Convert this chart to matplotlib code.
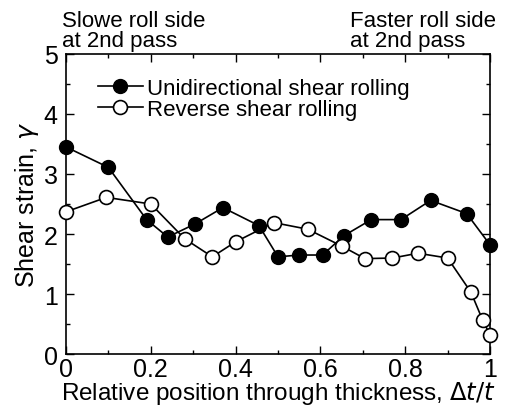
import numpy as np
import matplotlib
matplotlib.use('Agg')
import matplotlib.pyplot as plt
from matplotlib.ticker import MultipleLocator

plt.rcParams['font.family'] = ['Liberation Sans', 'DejaVu Sans']

# Unidirectional shear rolling (filled)
uni_x = [0.0, 0.1, 0.19, 0.24, 0.305, 0.37, 0.455, 0.50, 0.55, 0.605, 0.655, 0.72, 0.79, 0.86, 0.945, 1.0]
uni_y = [3.45, 3.11, 2.24, 1.95, 2.17, 2.44, 2.14, 1.62, 1.65, 1.65, 1.97, 2.24, 2.24, 2.56, 2.34, 1.82]

# Reverse shear rolling (open)
rev_x = [0.0, 0.095, 0.2, 0.28, 0.345, 0.40, 0.49, 0.57, 0.65, 0.705, 0.77, 0.83, 0.9, 0.955, 0.983, 1.0]
rev_y = [2.37, 2.61, 2.50, 1.92, 1.62, 1.87, 2.19, 2.08, 1.80, 1.59, 1.60, 1.68, 1.60, 1.03, 0.56, 0.32]

fig = plt.figure(figsize=(5.09, 4.10), dpi=100)
ax = fig.add_axes([0.1297, 0.134, 0.833, 0.732])

ax.plot(uni_x, uni_y, '-o', color='black', mfc='black', mec='black',
        ms=10, lw=1.2, label='Unidirectional shear rolling', clip_on=False, zorder=3)
ax.plot(rev_x, rev_y, '-o', color='black', mfc='white', mec='black',
        ms=10, lw=1.2, mew=1.2, label='Reverse shear rolling', clip_on=False, zorder=3)

ax.set_xlim(0, 1)
ax.set_ylim(0, 5)
ax.xaxis.set_major_locator(MultipleLocator(0.2))
ax.xaxis.set_minor_locator(MultipleLocator(0.1))
ax.yaxis.set_major_locator(MultipleLocator(1))
ax.yaxis.set_minor_locator(MultipleLocator(0.5))
ax.set_xticks([0, 0.2, 0.4, 0.6, 0.8, 1.0])
ax.set_xticklabels(['0', '0.2', '0.4', '0.6', '0.8', '1'])
ax.tick_params(which='both', direction='in', top=True, right=True, labelsize=18)
ax.tick_params(which='major', length=6, width=1)
ax.tick_params(which='minor', length=3, width=1)
ax.tick_params(axis='x', pad=2)
ax.tick_params(axis='y', pad=6)
for s in ax.spines.values():
    s.set_linewidth(1.2)

ax.set_xlabel('Relative position through thickness, $\\Delta t/t$', fontsize=17.5, labelpad=-1)
ax.set_ylabel('Shear strain, $\\gamma$', fontsize=18, labelpad=2)

fig.text(0.122, 0.873, 'Slowe roll side\nat 2nd pass', fontsize=16, linespacing=0.95, va='bottom', ha='left')
fig.text(0.688, 0.873, 'Faster roll side\nat 2nd pass', fontsize=16, linespacing=0.95, va='bottom', ha='left')

ax.legend(loc='upper left', bbox_to_anchor=(0.055, 0.95), frameon=False, fontsize=16,
          handlelength=2.0, handletextpad=0.2, labelspacing=0.0, borderaxespad=0)

fig.savefig('out.png', dpi=100)
